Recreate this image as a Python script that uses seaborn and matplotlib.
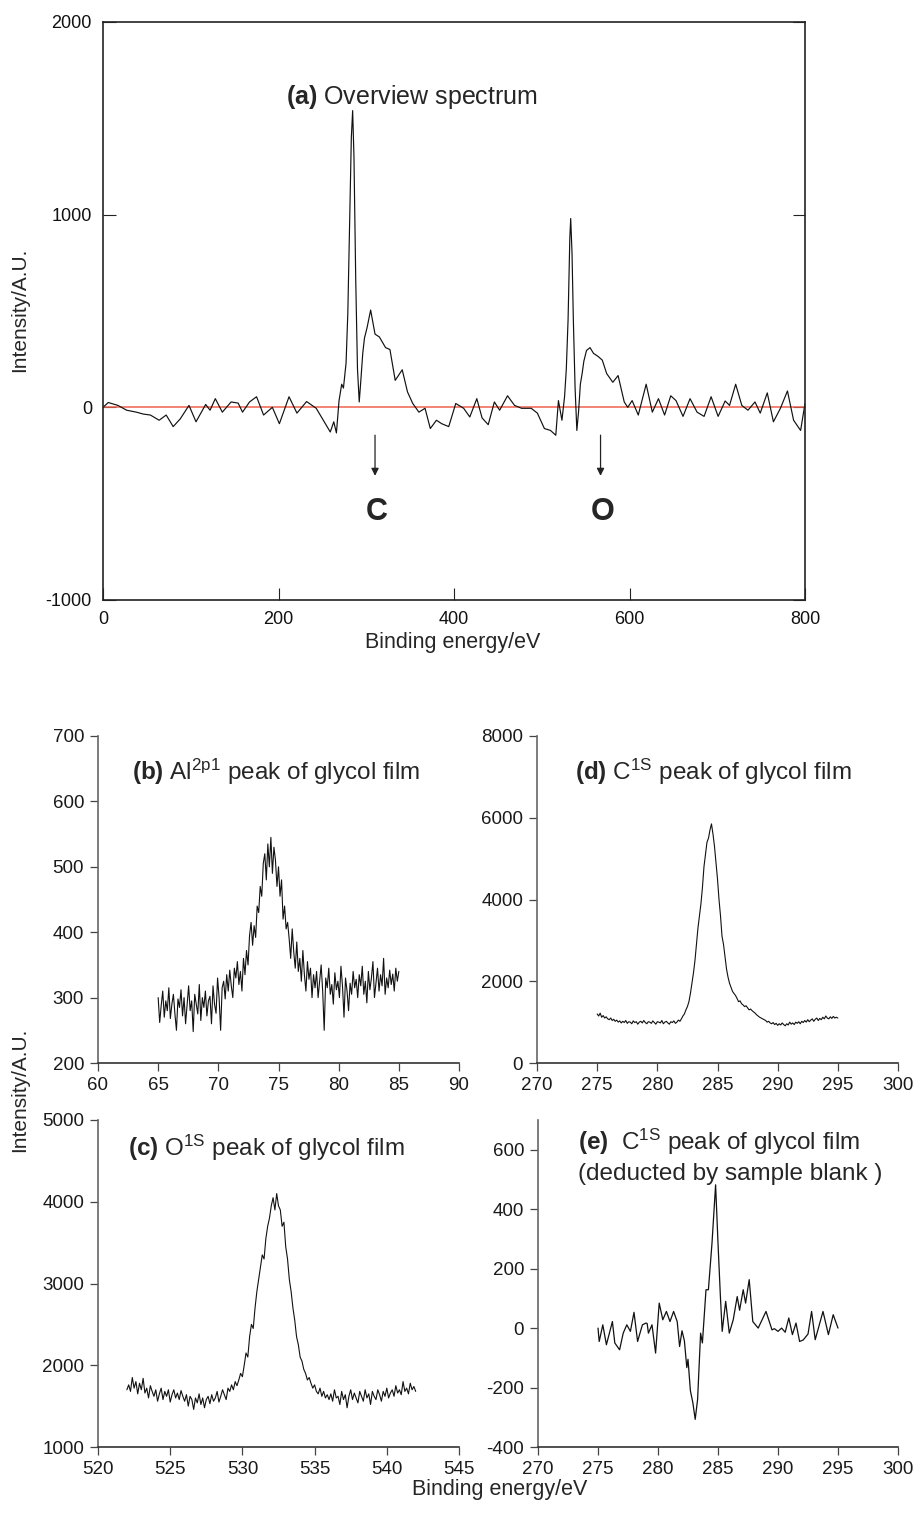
import numpy as np
import pandas as pd
import matplotlib
matplotlib.use("Agg")
import matplotlib.pyplot as plt
import seaborn as sns

# ---------------- data ----------------
# (a) overview spectrum: binding energy (eV) and intensity
a_energy = [0, 6, 17, 27, 38, 46, 54, 64, 72, 80, 88, 98, 106, 117, 122, 128, 136, 146, 154, 159,
            167, 175, 183, 193, 201, 212, 221, 232, 243, 251, 259, 263, 266, 269, 272, 274, 277, 279,
            281, 283, 284.5, 286, 288, 290, 292, 294, 296, 298, 301, 305, 310, 315, 322, 327, 333, 341,
            347, 353, 360, 367, 373, 380, 386,
            394, 402, 411, 418, 426, 432, 439, 446, 452, 461, 469, 477, 488, 495, 503, 510, 516, 519,
            523, 526, 528, 530, 532, 533, 534.5, 536, 538, 540, 542, 544, 546, 548, 551, 555, 559, 564,
            569, 574, 581, 587, 594, 598, 603,
            610, 619, 626, 633, 640, 647, 653, 661, 669, 677, 685, 693, 701, 709, 714, 721, 728, 735,
            743, 749, 757, 764, 772, 780, 787, 795, 800]
a_intensity = [0, 25, 10, -15, -25, -35, -40, -67, -40, -100, -60, 10, -75, 15, -15, 45, -25, 28, 22, -25,
               28, 55, -40, 0, -85, 55, -30, 30, -5, -67, -128, -75, -133, 35, 120, 100, 230, 490,
               950, 1400, 1540, 1300, 665, 200, 28, 150, 280, 360, 415, 505, 380, 365, 310, 300, 140, 195,
               80, 20, -25, -5, -110, -67, -85,
               -100, 20, -5, -50, 45, -55, -90, 28, -15, 60, 10, -5, -5, -30, -110, -120, -145, 35,
               -67, 55, 200, 455, 880, 980, 800, 455, 100, -120, -20, 120, 175, 240, 295, 310, 280, 265,
               245, 175, 130, 165, 28, 0, 35,
               -40, 120, -25, 45, -40, 60, 35, -47, 45, -25, -47, 55, -47, 33, 10, 120, 10, -15,
               28, -30, 75, -75, -5, 85, -67, -120, 20]

# (b) Al 2p1 peak, 65-85 eV
b_range = (65.0, 85.0)
b_intensity = [300, 262, 288, 310, 270, 295, 280, 315, 268, 290, 305, 275, 250, 298, 285, 312, 272, 300, 260, 288,
               318, 280, 295, 248, 305, 290, 275, 320, 265, 300, 285, 310, 272, 295, 302, 260, 318, 290, 276, 330, 300,
               250, 315, 325, 298, 335, 310, 342, 318, 300, 345, 330, 355, 320, 340, 310,
               360, 335, 372, 350, 395, 415, 380, 410, 392, 440, 430,
               470, 455, 505, 520, 480, 535, 500, 545, 490, 530, 510, 470,
               500, 455, 480, 420, 440, 405, 415, 390, 360, 405, 370, 345,
               385, 340, 360, 325, 372, 335, 310, 355, 328, 345, 300, 335,
               315, 340, 300, 325, 350, 310, 250, 330, 315, 345, 305, 320, 290, 338, 312, 325, 300, 348, 318, 270,
               330, 310, 280, 322, 305, 340, 315, 328, 300, 335, 318, 348, 305, 325, 292, 340, 312, 330, 355, 300,
               322, 345, 310, 335, 318, 360, 305, 330, 315, 342, 320, 336, 310, 345, 325, 340]

# (c) O 1s peak, 522-542 eV
c_range = (522.0, 542.0)
c_intensity = [1700, 1760, 1680, 1850, 1720, 1800, 1650, 1780, 1700, 1840, 1660, 1720, 1600, 1750, 1680, 1620,
               1700, 1560, 1650, 1720, 1580, 1680, 1620, 1700, 1550, 1640, 1700, 1600, 1660, 1580, 1690, 1620, 1560,
               1640, 1500, 1620, 1580, 1460, 1600, 1540, 1650, 1520, 1600, 1480, 1580, 1620, 1530, 1640, 1560,
               1600, 1680, 1550, 1620, 1700, 1640, 1580, 1720, 1680, 1760, 1700, 1800,
               1750, 1820, 1900, 1860, 2000, 2150, 2100, 2350, 2500, 2450, 2700, 2900,
               3050, 3200, 3350, 3300, 3550, 3700, 3800, 3950, 4050, 3900, 4100, 3950,
               3900, 3700, 3750, 3450, 3300, 3050, 2900, 2700, 2550, 2350, 2250, 2100,
               2050, 1950, 1900, 1820, 1850, 1780, 1720, 1760, 1680, 1650, 1720, 1620, 1680, 1600, 1640, 1580,
               1650, 1560, 1700, 1600, 1620, 1520, 1680, 1580, 1640, 1480, 1620, 1700, 1580, 1660, 1600, 1540,
               1680, 1620, 1560, 1700, 1600, 1650, 1520, 1680, 1620, 1580, 1700, 1640, 1560, 1680, 1620, 1720,
               1600, 1660, 1700, 1620, 1750, 1660, 1700, 1640, 1800, 1680, 1720, 1650, 1780, 1700, 1740, 1680]

# (d) C 1s peak, 275-295 eV
d_range = (275.0, 295.0)
d_intensity = [1200, 1150, 1220, 1120, 1160, 1100, 1130, 1080, 1060, 1100, 1040, 1070, 1020, 1050, 1000, 1030,
               980, 1020, 990, 1040, 970, 1010, 1000, 960, 1030, 990, 1010, 950, 1000, 1020, 980, 1040, 990, 960,
               1010, 1000, 970, 1030, 990, 950, 1010, 1000, 980, 1040, 960, 1000, 1020, 980, 950, 1010, 990, 1030,
               970, 1000, 1050, 1020,
               1080, 1150, 1200, 1300, 1380, 1500, 1700, 1950, 2200, 2500, 2900, 3300, 3600, 3900, 4300, 4800,
               5100, 5400, 5500, 5700, 5850, 5600, 5300, 4900, 4500, 4000, 3600, 3100, 2900, 2600, 2300, 2100,
               1950, 1850, 1750, 1700, 1650, 1580, 1500, 1520, 1450, 1420, 1380, 1400, 1350, 1300, 1320, 1280,
               1250, 1220, 1180, 1150,
               1120, 1100, 1080, 1060, 1040, 1000, 1020, 980, 960, 990, 940, 970, 920, 960, 930, 980, 940, 910,
               960, 930, 1000, 950, 980, 940, 1000, 970, 1010, 960, 1020, 990, 1040, 1000, 1060, 1010, 1050, 1080,
               1020, 1070, 1100, 1040, 1090, 1060, 1120, 1080, 1150, 1100, 1080, 1130, 1090, 1140, 1100, 1120, 1100]

# (e) C 1s deducted by sample blank
e_energy = [275.0, 275.1, 275.4, 275.7, 276.2, 276.4, 276.8, 277.1, 277.4, 277.7, 278.0, 278.3, 278.7, 279.0,
            279.1, 279.2, 279.5, 279.8, 280.1, 280.4, 280.7, 281.0, 281.3, 281.6, 281.8, 282.0, 282.2, 282.4,
            282.5, 282.7, 282.9, 283.1, 283.3, 283.55, 283.7, 284.0, 284.2, 284.5, 284.8, 285.0, 285.2, 285.35,
            285.64, 285.94, 286.27, 286.6, 286.8, 287.1, 287.3, 287.6, 287.9, 288.35, 289.0, 289.5, 289.7,
            290.0, 290.3, 290.6, 290.9, 291.2, 291.5, 291.8, 292.1, 292.5, 292.8, 293.1, 293.75, 294.2, 294.6, 295.0]
e_intensity = [0, -45, 11, -56, 22, -50, -73, -17, 11, -11, 53, -45, 11, 17,
               15, -17, 11, -84, 84, 28, 56, 22, 56, 22, -62, -9, -43, -133,
               -105, -211, -250, -307, -240, -17, -50, 129, 129, 286, 482, 286, 106, -11,
               90, -17, 28, 106, 60, 129, 84, 163, 22, 0, 56, -6, -2,
               -11, 0, -14, 34, -22, 17, -45, -40, -20, 56, -39, 56, -22, 45, 0]

a_xticks = [0, 200, 400, 600, 800]
a_yticks = [-1000, 0, 1000, 2000]

# ---------------- style ----------------
sns.set_theme(style="ticks")
plt.rcParams["font.family"] = ["Liberation Sans", "DejaVu Sans"]
plt.rcParams["axes.unicode_minus"] = False
plt.rcParams["mathtext.fontset"] = "custom"
plt.rcParams["mathtext.rm"] = "Liberation Sans"
plt.rcParams["mathtext.bf"] = "Liberation Sans:bold"
plt.rcParams["mathtext.it"] = "Liberation Sans:italic"

LINE = "#111111"

fig = plt.figure(figsize=(9.18, 15.13), dpi=100)

W, H = 918, 1513
def rect(l, t, r, b):
    return [l / W, 1 - b / H, (r - l) / W, (b - t) / H]

# ---------------- panel (a) ----------------
ax_a = fig.add_axes(rect(103, 22, 805, 600))
df_a = pd.DataFrame({"energy": a_energy, "intensity": a_intensity})
sns.lineplot(data=df_a, x="energy", y="intensity", ax=ax_a, color=LINE, lw=0.85,
             estimator=None, sort=False)
ax_a.axhline(0, color="#f0624d", lw=1.1, zorder=1)
ax_a.set_xlim(0, 800)
ax_a.set_ylim(-1000, 2000)
ax_a.set_xticks(a_xticks)
ax_a.set_yticks(a_yticks)
ax_a.tick_params(direction="in", length=9, width=0.8, color="#222222", top=False, right=True,
                 labelsize=13, pad=8, labelcolor="#111111")
for s in ax_a.spines.values():
    s.set_visible(True)
    s.set_color("#222222")
    s.set_linewidth(1.2)
ax_a.set_xlabel("")
ax_a.set_ylabel("")
ax_a.text(208, 1612, r"$\mathbf{(a)}$ Overview spectrum", fontsize=18, va="center", ha="left")

ax_a.annotate("", xy=(310, -370), xytext=(310, -130),
              arrowprops=dict(arrowstyle="-|>", color="#222222", lw=0.9, mutation_scale=11))
ax_a.annotate("", xy=(567, -370), xytext=(567, -130),
              arrowprops=dict(arrowstyle="-|>", color="#222222", lw=0.9, mutation_scale=11))
ax_a.text(312, -545, "C", fontsize=22, fontweight="bold", ha="center", va="center")
ax_a.text(569, -545, "O", fontsize=22, fontweight="bold", ha="center", va="center")

fig.text(20 / W, 1 - 310 / H, "Intensity/A.U.", rotation=90, ha="center", va="center",
         fontsize=15)
fig.text(453 / W, 1 - 642 / H, "Binding energy/eV", ha="center", va="center", fontsize=15.5)

# ---------------- small panels ----------------
def small_panel(r, energies, values, xlim, ylim, xticks, yticks, lw=0.8):
    ax = fig.add_axes(rect(*r))
    df = pd.DataFrame({"energy": energies, "intensity": values})
    sns.lineplot(data=df, x="energy", y="intensity", ax=ax, color=LINE, lw=lw,
                 estimator=None, sort=False)
    ax.set_xlim(*xlim)
    ax.set_ylim(*ylim)
    ax.set_xticks(xticks)
    ax.set_yticks(yticks)
    sns.despine(ax=ax)
    ax.spines["left"].set_color("#666666")
    ax.spines["bottom"].set_color("#333333")
    for side in ("left", "bottom"):
        ax.spines[side].set_linewidth(1.2)
    ax.tick_params(direction="out", length=6, width=0.9, color="#444444", labelsize=13.5,
                   labelcolor="#1a1a1a", pad=4)
    ax.set_xlabel("")
    ax.set_ylabel("")
    return ax

def grid(rng, vals):
    return np.linspace(rng[0], rng[1], len(vals))

TFS = 17.5
ax_b = small_panel((98, 736, 459, 1063), grid(b_range, b_intensity), b_intensity,
                   (60, 90), (200, 700), [60, 65, 70, 75, 80, 85, 90],
                   [200, 300, 400, 500, 600, 700])
ax_b.text(0.095, 0.89, r"$\mathbf{(b)}$ Al$^{\mathrm{2p1}}$ peak of glycol film",
          transform=ax_b.transAxes, fontsize=TFS, ha="left", va="center")

ax_d = small_panel((537, 736, 898, 1063), grid(d_range, d_intensity), d_intensity,
                   (270, 300), (0, 8000), [270, 275, 280, 285, 290, 295, 300],
                   [0, 2000, 4000, 6000, 8000])
ax_d.text(0.105, 0.89, r"$\mathbf{(d)}$ C$^{\mathrm{1S}}$ peak of glycol film",
          transform=ax_d.transAxes, fontsize=TFS, ha="left", va="center")

ax_c = small_panel((98, 1120, 459, 1447), grid(c_range, c_intensity), c_intensity,
                   (520, 545), (1000, 5000), [520, 525, 530, 535, 540, 545],
                   [1000, 2000, 3000, 4000, 5000])
ax_c.text(0.083, 0.914, r"$\mathbf{(c)}$ O$^{\mathrm{1S}}$ peak of glycol film",
          transform=ax_c.transAxes, fontsize=TFS, ha="left", va="center")

ax_e = small_panel((538, 1120, 898, 1447), e_energy, e_intensity,
                   (270, 300), (-400, 700), [270, 275, 280, 285, 290, 295, 300],
                   [-400, -200, 0, 200, 400, 600], lw=0.9)
ax_e.text(0.11, 0.933, r"$\mathbf{(e)}$  C$^{\mathrm{1S}}$ peak of glycol film",
          transform=ax_e.transAxes, fontsize=TFS, ha="left", va="center")
ax_e.text(0.11, 0.836, "(deducted by sample blank )",
          transform=ax_e.transAxes, fontsize=TFS, ha="left", va="center")

fig.text(20 / W, 1 - 1090 / H, "Intensity/A.U.", rotation=90, ha="center", va="center",
         fontsize=15)
fig.text(500 / W, 1 - 1490 / H, "Binding energy/eV", ha="center", va="center", fontsize=15.5)

fig.savefig("out.png", dpi=100, facecolor="white")
